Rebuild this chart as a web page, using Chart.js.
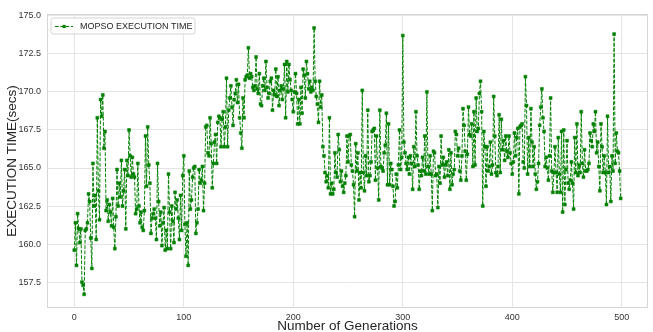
<!DOCTYPE html>
<html><head><meta charset="utf-8">
<script src="https://cdn.jsdelivr.net/npm/chart.js@4"></script>
<style>html,body{margin:0;padding:0;background:#fff}</style>
</head><body>
<canvas id="c" width="653" height="332"></canvas>
<script>
const seriesLabel = 'MOPSO EXECUTION TIME';
const xTitle = 'Number of Generations';
const yTitle = 'EXECUTION TIME(secs)';
const xTicks = [0, 100, 200, 300, 400, 500];
const yTicks = [157.5, 160.0, 162.5, 165.0, 167.5, 170.0, 172.5, 175.0];

// execution time per generation in blocks of generations
const gen000to044 = [159.6,161.4,158.6,162.0,161.0,160.1,161.0,157.5,157.3,156.7,
  160.9,161.0,161.4,163.3,162.8,160.4,158.4,165.3,162.5,163.2,
  160.3,168.3,163.5,161.6,169.5,168.4,169.8,166.3,167.4,162.2,
  162.9,161.5,162.6,162.1,161.2,163.0,161.1,159.7,161.8,164.9,
  162.5,164.0,163.1,165.5,162.5];
const gen045to094 = [163.5,164.9,161.0,165.5,164.5,167.5,165.8,164.4,165.7,164.6,
  164.4,162.0,162.3,165.3,162.5,161.4,162.1,161.1,160.9,162.2,
  167.1,163.8,167.7,165.2,164.0,160.7,161.7,162.0,162.3,161.7,
  160.3,165.3,162.8,161.2,162.1,159.9,161.4,162.4,159.6,160.9,
  159.7,164.6,162.1,159.7,162.5,161.5,160.1,163.4,162.3,162.9];
const gen095to144 = [161.7,160.3,163.2,160.9,164.5,165.8,161.3,159.2,161.4,158.6,
  164.8,162.3,162.9,164.4,165.0,165.1,160.7,161.4,162.3,164.9,
  164.0,164.2,165.1,162.2,164.0,167.7,167.8,166.0,165.8,168.3,
  166.6,163.7,165.3,166.7,167.2,165.3,168.0,168.4,168.3,166.4,
  168.2,168.7,166.4,167.7,170.9,166.4,168.8,169.6,170.4,169.0];
const gen145to194 = [167.8,169.5,169.9,170.8,169.3,170.5,168.3,167.3,166.3,169.6,
  168.3,170.8,171.0,171.1,172.9,170.9,171.2,171.0,170.3,170.1,
  170.4,172.3,170.2,169.9,171.2,169.2,169.1,170.4,170.9,170.1,
  172.0,170.3,169.6,169.9,170.7,170.9,168.8,170.1,169.8,171.5,
  169.7,171.0,169.1,170.1,170.4,169.5,170.2,171.8,168.3,172.0];
const gen195to244 = [170.0,171.8,170.8,170.1,169.5,168.7,170.0,171.2,169.9,167.9,
  169.5,167.9,170.3,168.6,171.5,171.1,169.6,172.0,171.2,170.2,
  170.7,170.0,170.3,170.1,174.2,170.7,169.7,169.2,168.0,170.7,
  169.0,169.8,166.4,165.8,164.7,164.1,164.5,163.7,168.3,163.3,
  164.0,163.3,163.6,166.0,164.7,164.4,167.2,166.2,164.1,164.8];
const gen245to294 = [163.8,163.4,164.0,164.5,167.1,165.4,167.1,167.2,165.2,164.8,
  163.9,161.8,166.6,164.8,166.0,162.9,164.7,163.7,170.1,164.7,
  163.5,165.8,164.5,168.8,164.1,164.5,165.4,167.4,167.5,167.6,
  164.2,167.1,165.0,162.9,168.8,165.1,165.0,164.8,166.0,166.5,
  168.6,163.9,167.9,163.9,165.3,164.9,163.8,162.5,162.8,164.6];
const gen295to344 = [163.7,165.2,167.5,164.9,165.7,173.7,166.7,166.0,165.3,164.9,
  165.7,164.6,165.8,165.3,163.6,166.4,165.1,168.7,165.8,165.2,
  163.6,164.8,164.5,165.7,164.8,167.1,164.6,170.0,165.1,164.6,
  165.8,164.6,162.2,166.1,166.0,164.5,164.6,162.4,165.1,164.0,
  167.1,165.2,165.7,164.4,165.2,165.4,164.5,166.2,163.6,166.0];
const gen345to394 = [163.9,164.6,164.9,167.4,167.2,165.8,166.3,164.8,164.2,165.8,
  168.9,167.8,166.1,164.2,165.9,169.0,167.2,167.1,167.9,165.1,
  168.7,165.2,169.6,167.4,167.6,169.9,170.7,168.7,162.5,167.4,
  166.4,163.8,166.4,164.8,165.1,166.7,164.6,165.2,169.7,167.1,
  164.7,164.5,165.1,168.5,164.7,168.2,166.2,166.8,165.5,167.1];
const gen395to444 = [166.1,165.7,167.1,166.0,165.3,164.6,165.4,167.3,165.8,167.0,
  167.6,163.3,167.7,167.8,167.9,165.4,165.0,171.0,169.1,164.6,
  167.0,165.1,168.9,166.7,165.1,166.4,164.6,163.6,164.1,165.3,
  167.8,169.0,170.2,168.3,167.4,165.1,165.7,165.0,164.2,165.8,
  169.6,164.8,163.4,164.7,166.4,164.7,163.4,167.0,164.6,163.4];
const gen445to499 = [167.4,162.1,167.5,162.6,164.9,166.8,164.0,163.6,164.2,165.4,
  164.0,162.3,167.0,164.7,167.9,164.5,165.2,164.7,168.7,165.3,
  164.4,166.2,164.8,164.8,164.9,165.3,167.3,166.8,166.4,167.9,
  167.4,168.7,166.0,166.7,165.1,163.5,167.9,166.4,164.7,165.8,
  164.7,162.6,168.4,164.7,165.1,162.8,165.8,164.8,173.8,165.3,
  167.3,166.1,166.0,164.8,163.0];

const execTime = [].concat(gen000to044, gen045to094, gen095to144, gen145to194, gen195to244,
  gen245to294, gen295to344, gen345to394, gen395to444, gen445to499);
const generations = execTime.map((_, i) => i);

const FONT = "'Liberation Sans', Arial, sans-serif";
const GREEN = '#008000';

const frame = {
  id: 'frame',
  beforeDatasetsDraw(chart) {
    const {ctx, chartArea: a} = chart;
    ctx.save();
    ctx.strokeStyle = '#d6d6d6';
    ctx.lineWidth = 1;
    ctx.strokeRect(a.left + 0.5, a.top + 0.5, a.right - a.left - 1, a.bottom - a.top - 1);
    ctx.restore();
  }
};

const boxLegend = {
  id: 'boxLegend',
  afterDatasetsDraw(chart) {
    const {ctx, chartArea: a} = chart;
    const ds = chart.data.datasets[0];
    const x = a.left + 4, y = a.top + 4, w = 144, h = 16, r = 2.5;
    ctx.save();
    ctx.beginPath();
    ctx.moveTo(x + r, y);
    ctx.arcTo(x + w, y, x + w, y + h, r);
    ctx.arcTo(x + w, y + h, x, y + h, r);
    ctx.arcTo(x, y + h, x, y, r);
    ctx.arcTo(x, y, x + w, y, r);
    ctx.closePath();
    ctx.fillStyle = 'rgba(255,255,255,0.85)';
    ctx.fill();
    ctx.strokeStyle = '#d4d4d4';
    ctx.lineWidth = 1;
    ctx.stroke();
    const cy = y + h / 2 + 0.5;
    ctx.beginPath();
    ctx.setLineDash([3.7, 1.6]);
    ctx.strokeStyle = ds.borderColor;
    ctx.lineWidth = 1;
    ctx.moveTo(x + 4, cy);
    ctx.lineTo(x + 22, cy);
    ctx.stroke();
    ctx.setLineDash([]);
    ctx.fillStyle = ds.pointBackgroundColor;
    ctx.fillRect(x + 11.5, cy - 1.6, 3.2, 3.2);
    ctx.fillStyle = '#262626';
    ctx.font = '9px ' + FONT;
    ctx.textBaseline = 'middle';
    ctx.textAlign = 'left';
    ctx.fillText(ds.label, x + 29, cy);
    ctx.restore();
  }
};

new Chart(document.getElementById('c'), {
  type: 'line',
  data: {
    datasets: [{
      label: seriesLabel,
      data: generations.map((g, i) => ({x: g, y: execTime[i]})),
      borderColor: GREEN,
      borderWidth: 1,
      borderDash: [3.7, 1.6],
      pointStyle: 'rect',
      pointRadius: 2.1,
      pointBorderWidth: 0.5,
      pointBackgroundColor: GREEN,
      pointBorderColor: GREEN,
      tension: 0,
      fill: false
    }]
  },
  options: {
    responsive: false,
    animation: false,
    devicePixelRatio: 1,
    layout: {padding: {top: 14, right: 5, left: 0, bottom: 0}},
    plugins: {legend: {display: false}, tooltip: {enabled: false}},
    scales: {
      x: {
        type: 'linear',
        min: -24.95, max: 523.95,
        afterBuildTicks: s => { s.ticks = xTicks.map(v => ({value: v})); },
        afterFit: s => { s.height = 24; },
        grid: {color: '#e4e4e4', lineWidth: 1, drawTicks: false},
        border: {display: false},
        ticks: {color: '#333333', font: {family: FONT, size: 9}, padding: 4,
          callback: v => String(v)},
        title: {display: true, text: xTitle, color: '#262626',
          font: {family: FONT, size: 13.5, lineHeight: 0.8}, padding: {top: 0, bottom: 0}}
      },
      y: {
        type: 'linear',
        min: 155.8, max: 175.12,
        afterBuildTicks: s => { s.ticks = yTicks.map(v => ({value: v})); },
        afterFit: s => { s.width = 47; },
        grid: {color: '#e4e4e4', lineWidth: 1, drawTicks: false},
        border: {display: false},
        ticks: {color: '#333333', font: {family: FONT, size: 9}, padding: 6,
          callback: v => Number(v).toFixed(1)},
        title: {display: true, text: yTitle, color: '#262626',
          font: {family: FONT, size: 13.5, lineHeight: 0.8}, padding: {top: 6.6, bottom: 0}}
      }
    }
  },
  plugins: [frame, boxLegend]
});
</script>
</body></html>
